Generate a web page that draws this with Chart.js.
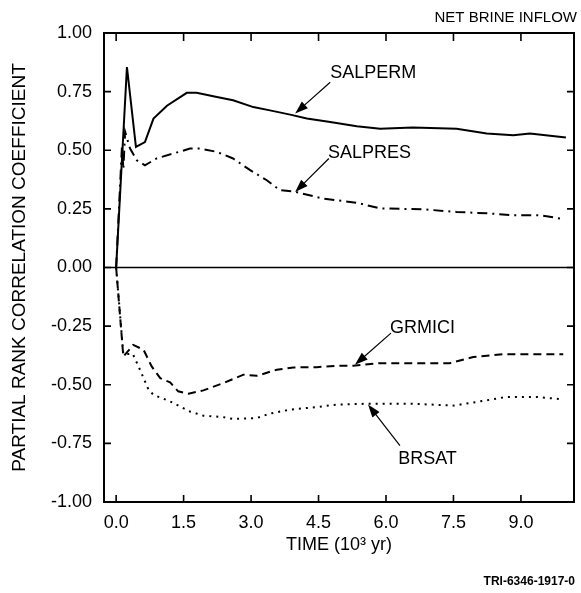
<!DOCTYPE html>
<html>
<head>
<meta charset="utf-8">
<script src="https://cdn.jsdelivr.net/npm/chart.js@4.4.1/dist/chart.umd.min.js"></script>
<style>
  html, body { margin: 0; padding: 0; background: #fff; }
  #wrap { width: 581px; height: 593px; }
</style>
</head>
<body>
<div id="wrap"><canvas id="prcc" width="581" height="593"></canvas></div>
<script>
// tick positions
const xTicks = [0, 1.5, 3.0, 4.5, 6.0, 7.5, 9.0];
const yTicks = [-1, -0.75, -0.5, -0.25, 0, 0.25, 0.5, 0.75, 1];

// time (10^3 yr) and PRCC for each variable
const salpermT = [0, 0.24, 0.44, 0.64, 0.83, 1.13, 1.57, 1.79, 2.24, 2.6, 3.05, 3.42, 3.87, 4.24, 4.76, 5.35, 5.87, 6.6, 7.57, 8.24, 8.83, 9.2, 10.0];
const salpermV = [0, 0.855, 0.514, 0.535, 0.635, 0.69, 0.745, 0.745, 0.727, 0.713, 0.684, 0.67, 0.652, 0.635, 0.62, 0.602, 0.592, 0.597, 0.592, 0.571, 0.564, 0.571, 0.554];

const salpresT = [0, 0.13, 0.16, 0.2, 0.31, 0.46, 0.64, 0.9, 1.27, 1.64, 1.87, 2.24, 2.6, 2.98, 3.35, 3.64, 3.98, 4.6, 5.35, 5.87, 6.83, 7.57, 8.24, 8.83, 9.42, 9.87];
const salpresV = [0, 0.52, 0.42, 0.578, 0.507, 0.457, 0.436, 0.465, 0.486, 0.507, 0.507, 0.493, 0.465, 0.415, 0.372, 0.33, 0.323, 0.294, 0.276, 0.252, 0.248, 0.237, 0.231, 0.223, 0.223, 0.209];

const grmiciT = [0, 0.16, 0.38, 0.61, 0.79, 0.98, 1.2, 1.38, 1.61, 1.94, 2.38, 2.83, 3.13, 3.57, 3.94, 4.46, 4.9, 5.27, 5.87, 6.6, 7.42, 7.94, 8.6, 9.2, 9.94];
const grmiciV = [0, -0.38, -0.33, -0.351, -0.422, -0.472, -0.49, -0.528, -0.538, -0.524, -0.493, -0.457, -0.462, -0.436, -0.426, -0.425, -0.419, -0.419, -0.408, -0.408, -0.408, -0.382, -0.37, -0.37, -0.37];

const brsatT = [0, 0.16, 0.37, 0.53, 0.72, 0.83, 1.2, 1.64, 1.94, 2.38, 2.6, 3.13, 3.42, 3.87, 4.46, 4.9, 5.57, 6.6, 7.5, 8.09, 8.68, 9.35, 9.87];
const brsatV = [0, -0.37, -0.368, -0.436, -0.521, -0.543, -0.571, -0.614, -0.632, -0.638, -0.646, -0.642, -0.623, -0.606, -0.595, -0.585, -0.581, -0.581, -0.589, -0.571, -0.552, -0.552, -0.561];

// curve labels: text anchor, arrow tail and arrow tip, in data units
const callouts = [
  { text: 'SALPERM', at: [4.76, 0.828], from: [4.76, 0.79], to: [3.98, 0.657] },
  { text: 'SALPRES', at: [4.71, 0.49], from: [4.73, 0.465], to: [3.98, 0.322] },
  { text: 'GRMICI', at: [6.09, -0.257], from: [6.11, -0.28], to: [5.31, -0.415] },
  { text: 'BRSAT', at: [6.27, -0.815], from: [6.31, -0.76], to: [5.6, -0.584] }
];

const FONT = "'Liberation Sans', Arial, Helvetica, sans-serif";

const pts = (t, v) => t.map((x, i) => ({ x: x, y: v[i] }));

function arrow(ctx, x1, y1, x2, y2) {
  const a = Math.atan2(y2 - y1, x2 - x1);
  const c = Math.cos(a), s = Math.sin(a);
  const len = 13, half = 4.5;
  ctx.beginPath();
  ctx.moveTo(x1, y1);
  ctx.lineTo(x2 - len * 0.7 * c, y2 - len * 0.7 * s);
  ctx.stroke();
  ctx.beginPath();
  ctx.moveTo(x2, y2);
  ctx.lineTo(x2 - len * c + half * s, y2 - len * s - half * c);
  ctx.lineTo(x2 - len * c - half * s, y2 - len * s + half * c);
  ctx.closePath();
  ctx.fill();
}

// box, inward ticks, zero line, callouts and corner captions
const decorations = {
  id: 'decorations',
  afterDatasetsDraw(chart) {
    const { ctx, chartArea: a, scales: { x, y } } = chart;
    ctx.save();
    ctx.strokeStyle = '#000';
    ctx.fillStyle = '#000';
    ctx.lineWidth = 2;
    ctx.strokeRect(a.left, a.top, a.right - a.left, a.bottom - a.top);

    ctx.lineWidth = 1.6;
    const y0 = y.getPixelForValue(0);
    ctx.beginPath();
    ctx.moveTo(a.left, y0);
    ctx.lineTo(a.right, y0);
    ctx.stroke();

    ctx.beginPath();
    xTicks.forEach(v => {
      const px = x.getPixelForValue(v);
      ctx.moveTo(px, a.bottom);
      ctx.lineTo(px, a.bottom - 7);
      ctx.moveTo(px, a.top);
      ctx.lineTo(px, a.top + 8);
    });
    yTicks.slice(1, -1).forEach(v => {
      const py = y.getPixelForValue(v);
      ctx.moveTo(a.left, py);
      ctx.lineTo(a.left + 7, py);
      ctx.moveTo(a.right, py);
      ctx.lineTo(a.right - 7, py);
    });
    ctx.stroke();

    ctx.lineWidth = 1.2;
    ctx.font = '18px ' + FONT;
    ctx.textAlign = 'left';
    ctx.textBaseline = 'middle';
    callouts.forEach(c => {
      ctx.fillText(c.text, x.getPixelForValue(c.at[0]), y.getPixelForValue(c.at[1]));
      arrow(ctx,
        x.getPixelForValue(c.from[0]), y.getPixelForValue(c.from[1]),
        x.getPixelForValue(c.to[0]), y.getPixelForValue(c.to[1]));
    });

    ctx.textAlign = 'right';
    ctx.textBaseline = 'alphabetic';
    ctx.font = '15px ' + FONT;
    ctx.fillText('NET BRINE INFLOW', 577, 22);
    ctx.font = 'bold 12px ' + FONT;
    ctx.fillText('TRI-6346-1917-0', 575, 585);
    ctx.restore();
  }
};

new Chart(document.getElementById('prcc'), {
  type: 'line',
  data: {
    datasets: [
      { label: 'SALPERM', data: pts(salpermT, salpermV), borderDash: [] },
      { label: 'SALPRES', data: pts(salpresT, salpresV), borderDash: [10, 5, 2, 5] },
      { label: 'GRMICI', data: pts(grmiciT, grmiciV), borderDash: [8, 5] },
      { label: 'BRSAT', data: pts(brsatT, brsatV), borderDash: [2, 5] }
    ].map(d => Object.assign(d, {
      borderColor: '#000', borderWidth: 2, pointRadius: 0, fill: false, tension: 0
    }))
  },
  options: {
    responsive: false,
    animation: false,
    layout: { padding: { top: 33, right: 7, left: 0, bottom: 0 } },
    plugins: { legend: { display: false }, tooltip: { enabled: false } },
    scales: {
      x: {
        type: 'linear',
        min: -0.27,
        max: 10.18,
        afterFit(s) { s.height = 91; },
        afterBuildTicks(s) { s.ticks = xTicks.map(v => ({ value: v })); },
        ticks: {
          callback: v => v.toFixed(1),
          color: '#000', font: { family: FONT, size: 18 },
          padding: 10, autoSkip: false, maxRotation: 0
        },
        grid: { display: false, drawTicks: false },
        border: { display: false },
        title: {
          display: true, text: 'TIME (10³ yr)', color: '#000',
          font: { family: FONT, size: 18 }, padding: { top: 0, bottom: 37 }
        }
      },
      y: {
        min: -1,
        max: 1,
        afterFit(s) { s.width = 104; },
        afterBuildTicks(s) { s.ticks = yTicks.map(v => ({ value: v })); },
        ticks: {
          callback: v => v.toFixed(2),
          color: '#000', font: { family: FONT, size: 18 }, padding: 12
        },
        grid: { display: false, drawTicks: false },
        border: { display: false },
        title: {
          display: true, text: 'PARTIAL RANK CORRELATION COEFFICIENT', color: '#000',
          font: { family: FONT, size: 19 }, padding: { top: 8, bottom: 0 }
        }
      }
    }
  },
  plugins: [decorations]
});
</script>
</body>
</html>
